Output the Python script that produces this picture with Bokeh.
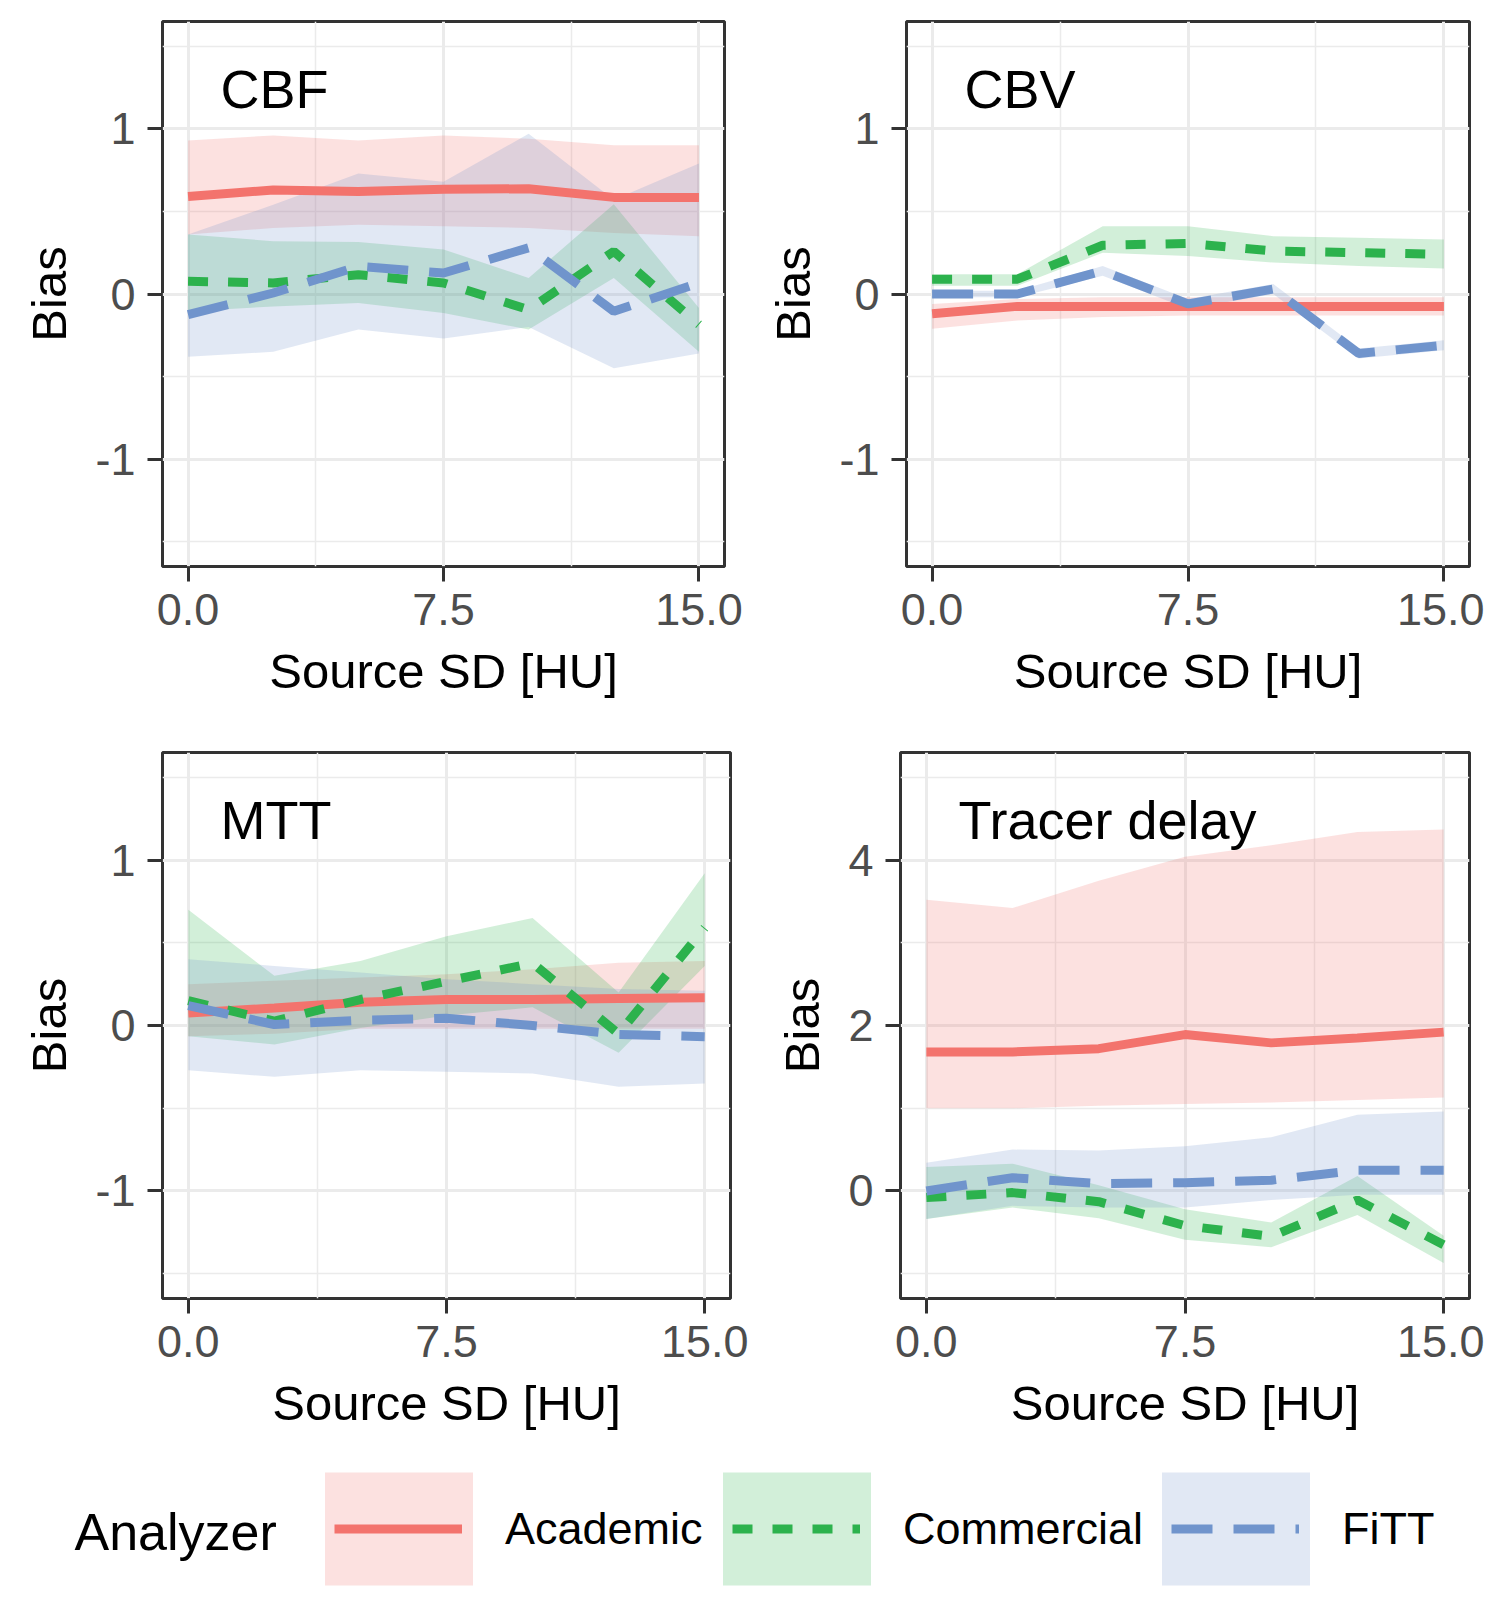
from bokeh.plotting import figure
from bokeh.layouts import column, row
from bokeh.models import (Range1d, FixedTicker, PrintfTickFormatter, Label,
                          Legend, LegendItem, ColumnDataSource)
from bokeh.embed import file_html
from bokeh.resources import INLINE

# ---------------- data ----------------
source_sd = [0, 2.5, 5, 7.5, 10, 12.5, 15]
analyzers = ["Academic", "Commercial", "FiTT"]

# CBF
cbf_academic    = [0.59, 0.63, 0.62, 0.635, 0.637, 0.585, 0.585]
cbf_academic_lo = [0.36, 0.40, 0.42, 0.41, 0.40, 0.37, 0.35]
cbf_academic_hi = [0.93, 0.96, 0.93, 0.96, 0.94, 0.90, 0.90]
cbf_commercial    = [0.077, 0.067, 0.117, 0.067, -0.095, 0.258, -0.185]
cbf_commercial_lo = [-0.105, -0.075, -0.054, -0.115, -0.215, 0.097, -0.35]
cbf_commercial_hi = [0.36, 0.32, 0.315, 0.27, 0.097, 0.544, -0.085]
cbf_fitt    = [-0.125, 0.006, 0.167, 0.127, 0.28, -0.105, 0.067]
cbf_fitt_lo = [-0.38, -0.35, -0.215, -0.27, -0.20, -0.45, -0.36]
cbf_fitt_hi = [0.36, 0.54, 0.73, 0.68, 0.97, 0.57, 0.79]

# CBV
cbv_academic    = [-0.12, -0.075, -0.075, -0.075, -0.075, -0.075, -0.075]
cbv_academic_lo = [-0.21, -0.16, -0.14, -0.13, -0.13, -0.13, -0.13]
cbv_academic_hi = [-0.06, -0.03, -0.02, -0.02, -0.02, -0.02, -0.02]
cbv_commercial    = [0.09, 0.09, 0.295, 0.306, 0.26, 0.25, 0.24]
cbv_commercial_lo = [0.05, 0.05, 0.25, 0.23, 0.19, 0.17, 0.155]
cbv_commercial_hi = [0.12, 0.12, 0.41, 0.41, 0.35, 0.34, 0.33]
cbv_fitt    = [0.0, 0.0, 0.14, -0.06, 0.03, -0.36, -0.31]
cbv_fitt_lo = [-0.02, -0.02, 0.11, -0.09, 0.0, -0.39, -0.34]
cbv_fitt_hi = [0.02, 0.02, 0.17, -0.03, 0.06, -0.33, -0.28]

# MTT
mtt_academic    = [0.076, 0.106, 0.14, 0.157, 0.157, 0.163, 0.167]
mtt_academic_lo = [-0.065, -0.05, -0.02, -0.02, -0.02, -0.02, -0.02]
mtt_academic_hi = [0.25, 0.27, 0.29, 0.31, 0.34, 0.38, 0.39]
mtt_commercial    = [0.15, 0.026, 0.157, 0.267, 0.377, -0.05, 0.59]
mtt_commercial_lo = [-0.065, -0.115, -0.015, 0.06, 0.11, -0.165, 0.36]
mtt_commercial_hi = [0.70, 0.30, 0.39, 0.54, 0.65, 0.20, 0.92]
mtt_fitt    = [0.12, 0.006, 0.032, 0.044, 0.0, -0.054, -0.068]
mtt_fitt_lo = [-0.27, -0.31, -0.27, -0.28, -0.29, -0.37, -0.35]
mtt_fitt_hi = [0.40, 0.36, 0.32, 0.28, 0.25, 0.22, 0.21]

# Tracer delay
td_academic    = [1.68, 1.68, 1.72, 1.89, 1.79, 1.85, 1.92]
td_academic_lo = [1.0, 1.0, 1.03, 1.05, 1.07, 1.10, 1.13]
td_academic_hi = [3.52, 3.42, 3.75, 4.04, 4.18, 4.34, 4.37]
td_commercial    = [-0.08, -0.02, -0.13, -0.42, -0.55, -0.11, -0.65]
td_commercial_lo = [-0.34, -0.20, -0.33, -0.59, -0.68, -0.29, -0.87]
td_commercial_hi = [0.29, 0.33, 0.07, -0.22, -0.38, 0.18, -0.54]
td_fitt    = [0.0, 0.16, 0.09, 0.10, 0.13, 0.25, 0.25]
td_fitt_lo = [-0.34, -0.18, -0.20, -0.20, -0.11, -0.045, -0.045]
td_fitt_hi = [0.34, 0.50, 0.49, 0.54, 0.65, 0.92, 0.96]

x_ticks = [0, 7.5, 15]
x_minor = [3.75, 11.25]
bias_ticks = [-1, 0, 1]
bias_minor = [-1.5, -0.5, 0.5, 1.5]
td_ticks = [0, 2, 4]
td_minor = [-1, 1, 3, 5]

# ---------------- styles ----------------
COLORS = {"Academic": "#F3736D", "Commercial": "#2CB24D", "FiTT": "#7094CC"}
DASHES = {"Academic": "solid", "Commercial": "20 20", "FiTT": "41 21"}
FONT = "Liberation Sans"
LW = 9
RIB_ALPHA = 0.21


def make_panel(name, series, y_lim, y_ticks, y_minor, fw, fh, left, right, top, bottom):
    p = figure(frame_width=fw, frame_height=fh, title=None,
               x_range=Range1d(-0.75, 15.75), y_range=Range1d(*y_lim),
               output_backend="svg", toolbar_location=None,
               min_border_left=left, min_border_right=right,
               min_border_top=top, min_border_bottom=bottom,
               background_fill_color="white", border_fill_color="white")
    p.outline_line_color = "#333333"
    p.outline_line_width = 3

    p.xaxis.ticker = FixedTicker(ticks=x_ticks, minor_ticks=x_minor)
    p.xaxis.formatter = PrintfTickFormatter(format="%.1f")
    p.yaxis.ticker = FixedTicker(ticks=y_ticks, minor_ticks=y_minor)
    p.yaxis.formatter = PrintfTickFormatter(format="%d")
    p.xaxis.axis_label = "Source SD [HU]"
    p.yaxis.axis_label = "Bias"
    for ax in (p.xaxis[0], p.yaxis[0]):
        ax.axis_line_color = None
        ax.major_tick_line_color = "#333333"
        ax.major_tick_line_width = 3
        ax.major_tick_out = 15
        ax.major_tick_in = 0
        ax.minor_tick_out = 0
        ax.minor_tick_in = 0
        ax.major_label_text_font = FONT
        ax.major_label_text_font_size = "45px"
        ax.major_label_text_color = "#4D4D4D"
        ax.major_label_standoff = 12
        ax.axis_label_text_font = FONT
        ax.axis_label_text_font_size = "49px"
        ax.axis_label_text_font_style = "normal"
        ax.axis_label_text_color = "black"
        ax.axis_label_standoff = 16
    for g in (p.xgrid[0], p.ygrid[0]):
        g.grid_line_color = "#EBEBEB"
        g.grid_line_width = 3
        g.minor_grid_line_color = "#EBEBEB"
        g.minor_grid_line_width = 1.5

    for an in analyzers:
        mean, lo, hi = series[an]
        src = ColumnDataSource(dict(x=source_sd, y=mean, lo=lo, hi=hi))
        p.varea(x="x", y1="lo", y2="hi", source=src,
                fill_color=COLORS[an], fill_alpha=RIB_ALPHA)
    for an in analyzers:
        mean, lo, hi = series[an]
        src = ColumnDataSource(dict(x=source_sd, y=mean))
        p.line(x="x", y="y", source=src, line_color=COLORS[an],
               line_width=LW, line_dash=DASHES[an])

    p.add_layout(Label(x=58, y=fh - 67, x_units="screen", y_units="screen",
                       text=name, text_font=FONT, text_font_size="54px",
                       text_baseline="middle", text_color="black"))
    return p


cbf = {"Academic": (cbf_academic, cbf_academic_lo, cbf_academic_hi),
       "Commercial": (cbf_commercial, cbf_commercial_lo, cbf_commercial_hi),
       "FiTT": (cbf_fitt, cbf_fitt_lo, cbf_fitt_hi)}
cbv = {"Academic": (cbv_academic, cbv_academic_lo, cbv_academic_hi),
       "Commercial": (cbv_commercial, cbv_commercial_lo, cbv_commercial_hi),
       "FiTT": (cbv_fitt, cbv_fitt_lo, cbv_fitt_hi)}
mtt = {"Academic": (mtt_academic, mtt_academic_lo, mtt_academic_hi),
       "Commercial": (mtt_commercial, mtt_commercial_lo, mtt_commercial_hi),
       "FiTT": (mtt_fitt, mtt_fitt_lo, mtt_fitt_hi)}
td = {"Academic": (td_academic, td_academic_lo, td_academic_hi),
      "Commercial": (td_commercial, td_commercial_lo, td_commercial_hi),
      "FiTT": (td_fitt, td_fitt_lo, td_fitt_hi)}

p1 = make_panel("CBF", cbf, (-1.65, 1.65), bias_ticks, bias_minor, 562, 545, 162, 30, 21, 150)
p2 = make_panel("CBV", cbv, (-1.65, 1.65), bias_ticks, bias_minor, 563, 545, 152, 15, 21, 150)
p3 = make_panel("MTT", mtt, (-1.65, 1.65), bias_ticks, bias_minor, 568, 546, 162, 30, 36, 150)
p4 = make_panel("Tracer delay", td, (-1.3, 5.3), td_ticks, td_minor, 569, 546, 140, 15, 36, 150)

# ---------------- legend ----------------
LEG_W, LEG_H = 1484, 160
KEY_X = {"Academic": 324, "Commercial": 722, "FiTT": 1161}   # left edge of each key box (px)
KEY_W, KEY_H, KEY_LINE = 148, 113, 128
GW, GH = 185, 141                      # bokeh insets area keys by 10% per side
KEY_BOTTOM = 9

# legend-only figure: its ranges lie outside the data, so only the legend keys show
leg = figure(width=LEG_W, height=LEG_H, title=None,
             x_range=Range1d(100, 101), y_range=Range1d(100, 101),
             x_axis_type=None, y_axis_type=None,
             output_backend="svg", toolbar_location=None, min_border=0)
leg.outline_line_color = None
leg.grid.visible = False

area_legends, line_legends = [], []
for an in analyzers:
    mean, lo, hi = cbf[an]
    src = ColumnDataSource(dict(x=source_sd, y=mean, lo=lo, hi=hi))
    a = leg.varea(x="x", y1="lo", y2="hi", source=src,
                  fill_color=COLORS[an], fill_alpha=RIB_ALPHA)
    l = leg.line(x="x", y="y", source=src, line_color=COLORS[an],
                 line_width=LW, line_dash=DASHES[an])
    area_legends.append(Legend(
        items=[LegendItem(label=an, renderers=[a])],
        location=(KEY_X[an] - (GW - KEY_W) // 2, KEY_BOTTOM),
        glyph_width=GW, glyph_height=GH, label_standoff=14,
        padding=0, margin=0, border_line_color=None, background_fill_alpha=0,
        label_text_font=FONT, label_text_font_size="45px",
        label_text_color="black", click_policy="none"))
    line_legends.append(Legend(
        items=[LegendItem(label="", renderers=[l])],
        location=(KEY_X[an] + (KEY_W - KEY_LINE) // 2, KEY_BOTTOM),
        glyph_width=KEY_LINE, glyph_height=GH, label_standoff=0, label_width=0,
        padding=0, margin=0, border_line_color=None, background_fill_alpha=0,
        label_text_font=FONT, label_text_font_size="45px",
        click_policy="none"))
for lg in area_legends + line_legends:
    leg.add_layout(lg, "center")

leg.add_layout(Label(x=74, y=LEG_H - 83, x_units="screen", y_units="screen",
                     text="Analyzer", text_font=FONT, text_font_size="52px",
                     text_baseline="middle", text_color="black"))

layout = column(row(p1, p2), row(p3, p4), leg)

with open("out.html", "w") as f:
    f.write(file_html(layout, INLINE))
